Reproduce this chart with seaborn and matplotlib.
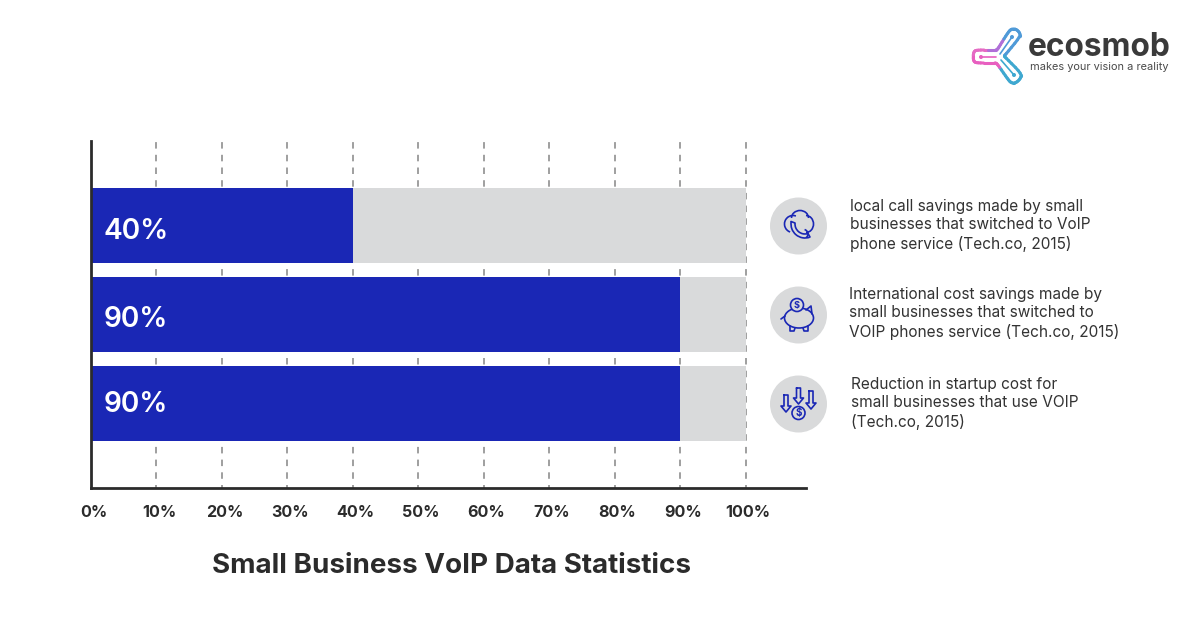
import numpy as np
import pandas as pd
import matplotlib
matplotlib.use("Agg")
import matplotlib.pyplot as plt
from matplotlib.patches import Circle, Ellipse, Arc
from matplotlib.transforms import ScaledTranslation
import seaborn as sns

categories = ["Local call savings", "International cost savings", "Startup cost reduction"]
values = [40, 90, 90]
totals = [100, 100, 100]
value_labels = ["40%", "90%", "90%"]
tick_values = [0, 10, 20, 30, 40, 50, 60, 70, 80, 90, 100]
tick_labels = [f"{v}%" for v in tick_values]
notes = [
    "local call savings made by small\nbusinesses that switched to VoIP\nphone service (Tech.co, 2015)",
    "International cost savings made by\nsmall businesses that switched to\nVOIP phones service (Tech.co, 2015)",
    "Reduction in startup cost for\nsmall businesses that use VOIP\n(Tech.co, 2015)",
]
title = "Small Business VoIP Data Statistics"
brand = "ecosmob"
tagline = "makes your vision a reality"

BLUE = "#1a27b5"
GREY = "#d9dadb"
DARK = "#2b2b2b"
TEXT = "#333333"

sns.set_theme(style="white")
plt.rcParams["font.family"] = ["Inter", "DejaVu Sans"]

W, H = 1200, 630
fig = plt.figure(figsize=(W / 100, H / 100), dpi=100, facecolor="white")
ax = fig.add_axes([91 / W, 1 - 488 / H, (806 - 91) / W, (488 - 141) / H])
df = pd.DataFrame({"category": categories, "value": values, "total": totals})
sns.barplot(data=df, x="total", y="category", color=GREY, saturation=1, width=0.845, ax=ax, zorder=2, linewidth=0)
sns.barplot(data=df, x="value", y="category", color=BLUE, saturation=1, width=0.845, ax=ax, zorder=3, linewidth=0)
ax.set_xlim(0, 109.2)
ax.set_ylim(2.954, -0.958)
ax.set_xlabel("")
ax.set_ylabel("")
ax.set_yticks([])
ax.set_xticks(tick_values)
ax.set_xticklabels(tick_labels)
ax.tick_params(axis="x", length=0, pad=12.5)
shift = ScaledTranslation(2.5 / 100, 0, fig.dpi_scale_trans)
for lab in ax.get_xticklabels():
    lab.set_fontweight("bold")
    lab.set_fontsize(11.6)
    lab.set_color(DARK)
    lab.set_transform(lab.get_transform() + shift)
ax.set_axisbelow(True)
ax.xaxis.grid(True, color="#8f8f8f", lw=1.2, linestyle=(2.1, (3.9, 3.72)))
ax.yaxis.grid(False)
for s in ("top", "right"):
    ax.spines[s].set_visible(False)
for s in ("left", "bottom"):
    ax.spines[s].set_color(DARK)
    ax.spines[s].set_linewidth(2)
    ax.spines[s].set_zorder(5)

label_offsets = [-4.2, -3.7, -0.6]
for i, lab in enumerate(value_labels):
    ax.annotate(lab, (0, i), xytext=(9, label_offsets[i]), textcoords="offset points",
                color="white", fontsize=20.2, fontweight="semibold", va="center", ha="left", zorder=6)

# overlay in reference pixel coordinates for title, notes, icons and logo
ov = fig.add_axes([0, 0, 1, 1], facecolor="none")
ov.set_xlim(0, W)
ov.set_ylim(H, 0)
ov.axis("off")

ov.text(452, 566, title, ha="center", va="center", fontsize=20, fontweight="bold", color=DARK)

note_x = [850.5, 849, 851]
note_y = [225, 313.5, 403]
icon_y = [226, 315, 404]
for x, y, yi, n in zip(note_x, note_y, icon_y, notes):
    ov.text(x, y, n, ha="left", va="center", fontsize=11.1, color=TEXT, linespacing=1.28)
    ov.add_patch(Circle((798.5, yi), 28.5, fc=GREY, ec="none"))

kw = dict(color=BLUE, lw=1.2, solid_capstyle="round")
def arc(cx, cy, w, h, a, b):
    ov.add_patch(Arc((cx, cy), w, h, theta1=a, theta2=b, ec=BLUE, lw=1.2))

# cloud + phone icon (angles run clockwise on screen, the overlay's y axis points down)
arc(793, 224, 17, 17, 110, 290)
arc(800, 218, 17, 15, 180, 360)
arc(806, 224, 15, 17, 270, 90)
arc(802, 234, 12, 10, 300, 40)
arc(805, 224, 28, 28, 70, 190)
arc(805, 224, 20, 20, 75, 185)
ov.plot([791, 795], [221.5, 223], **kw)
ov.plot([810, 808], [237, 233.5], **kw)

# piggy bank icon
ov.add_patch(Ellipse((799, 318), 29, 20, fc="none", ec=BLUE, lw=1.2))
ov.add_patch(Circle((797, 305), 6.5, fc=GREY, ec=BLUE, lw=1.2, zorder=3))
ov.text(797, 305.2, "$", color=BLUE, fontsize=6.5, ha="center", va="center", fontweight="bold", zorder=4)
ov.plot([806, 811, 812], [310, 306, 314], **kw)
ov.plot([781, 785], [319, 316], **kw)
ov.plot([790, 790, 794, 795], [326, 331, 331, 328], **kw)
ov.plot([803, 804, 808, 808], [328, 331, 331, 326], **kw)

# falling-arrows icon
def arrow(cx, top, bot):
    ov.plot([cx - 2, cx + 2, cx + 2, cx + 5, cx, cx - 5, cx - 2, cx - 2],
            [top, top, bot - 6, bot - 6, bot, bot - 6, bot - 6, top], **kw)
arrow(786, 395, 412)
arrow(798.5, 388, 404)
arrow(811, 391, 409)
ov.add_patch(Circle((798.5, 413), 6.5, fc=GREY, ec=BLUE, lw=1.2, zorder=3))
ov.text(798.5, 413.2, "$", color=BLUE, fontsize=7, ha="center", va="center", fontweight="bold", zorder=4)

# logo
ov.text(1028, 47.5, brand, fontsize=22.8, fontweight="bold", color="#3a3a3a", va="center", ha="left")
ov.text(1030, 67.5, tagline, fontsize=7.9, color="#4a4a4a", va="center", ha="left")

def smooth(pts, n=2):
    p = np.array(pts, float)
    for _ in range(n):
        q = np.roll(p, -1, axis=0)
        p = np.stack([0.75 * p + 0.25 * q, 0.25 * p + 0.75 * q], axis=1).reshape(-1, 2)
    return p

outline = [(974, 51), (978, 50), (994, 50), (997, 50), (999, 47), (1007, 34), (1011, 29), (1016, 29),
           (1020, 33), (1020, 37), (1006, 54), (1004, 56), (1006, 58), (1021, 73), (1021, 78), (1016, 83),
           (1011, 83), (1007, 78), (998, 65), (996, 63), (993, 63), (978, 63), (974, 62), (973, 57)]
curve = smooth(outline)
def logo_color(x, y):
    if x < 1000 and y > 56:
        return "#e85fc0"
    if x < 985:
        return "#e56bc4"
    if y < 56:
        return "#b06fd8" if x < 1003 else "#4f9ad8"
    return "#3fa8d0"
closed = np.vstack([curve, curve[:1]])
for a, b in zip(closed[:-1], closed[1:]):
    ov.plot([a[0], b[0]], [a[1], b[1]], color=logo_color(*a), lw=2.2, solid_capstyle="round")
for seg, c in [([(981, 57), (996, 57)], "#e85fc0"), ([(1012, 37), (1000, 54)], "#4f9ad8"), ([(1014, 75), (1001, 60)], "#3fa8d0")]:
    ov.plot(*zip(*seg), color=c, lw=1.2)
    ov.add_patch(Circle(seg[0], 2, fc=c, ec="none"))

fig.savefig("out.png", dpi=100, facecolor="white")
